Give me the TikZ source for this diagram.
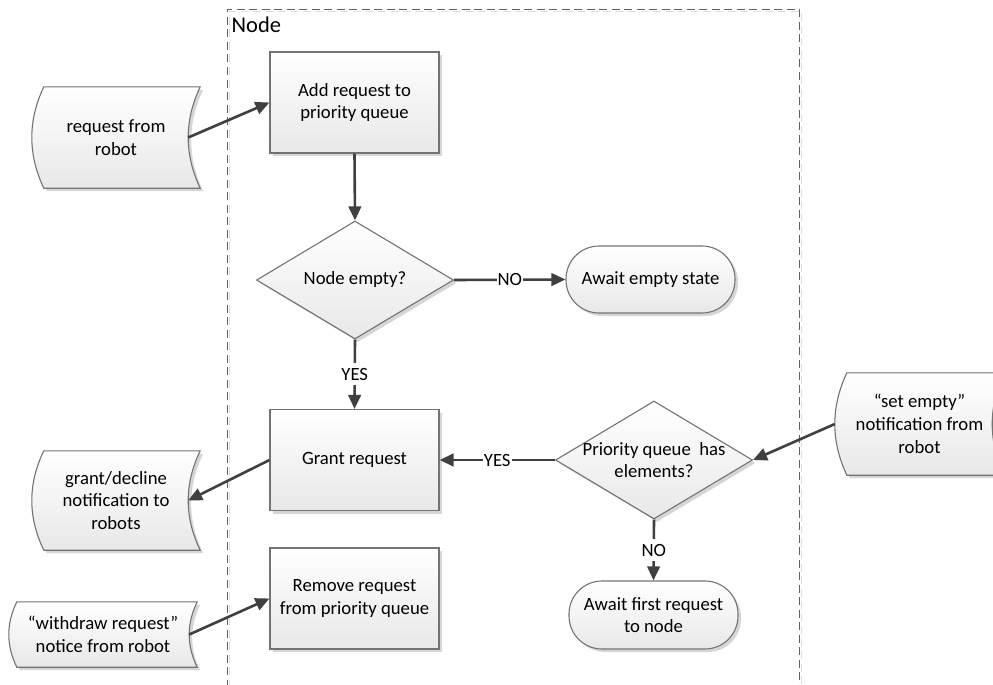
\documentclass[tikz,border=0pt]{standalone}
\usepackage{fontspec}
\setmainfont{Carlito}
\usetikzlibrary{arrows.meta,shapes.geometric,calc,shadows}
\pgfdeclarelayer{background}
\pgfsetlayers{background,main}

\tikzset{
  base/.style={font=\fontsize{18.7}{22.8}\selectfont, align=center, inner sep=0pt},
  shadefill/.style={top color=white, bottom color=black!9, draw=black!55, line width=1.1pt},
  softshadow/.style={drop shadow={shadow xshift=3pt, shadow yshift=-3pt, fill=black!16, opacity=1}},
  procbox/.style={base, rectangle, shadefill, softshadow, minimum width=169pt, minimum height=101pt},
  decision/.style={shape=diamond, inner sep=0pt, shadefill, softshadow, minimum width=197pt, minimum height=118pt},
  terminal/.style={base, rectangle, rounded corners=33pt, shadefill, softshadow, minimum width=169pt, minimum height=67pt},
  storednode/.style={base, rectangle, draw=none},
  arr/.style={draw=black!75, line width=2.6pt, -{Triangle[length=14pt,width=12.5pt]}},
  lbl/.style={base, fill=white, inner xsep=1pt, inner ysep=0pt, minimum height=22pt},
  frame/.style={draw=black!62, line width=1pt, dash pattern=on 8pt off 4.5pt},
  frameshadow/.style={draw=black!13, line width=1pt, dash pattern=on 8pt off 4.5pt},
}

% outline of a "stored data" shape around node #1, with bulge #2
\newcommand\storedpath[2]{%
  ([xshift=#2pt]#1.north west) -- (#1.north east)
  .. controls ($(#1.north east)!0.3333!(#1.south east)+(-4/3*#2,0)$)
         and ($(#1.north east)!0.6667!(#1.south east)+(-4/3*#2,0)$) .. (#1.south east)
  -- ([xshift=#2pt]#1.south west)
  .. controls ($(#1.south west)!0.3333!(#1.north west)+(-#2/3,0)$)
         and ($(#1.south west)!0.6667!(#1.north west)+(-#2/3,0)$) .. cycle}

\newcommand\storedoutline[2]{%
  \begin{pgfonlayer}{background}
    \begin{scope}[transform canvas={xshift=3pt,yshift=-3pt}]
      \fill[black!16] \storedpath{#1}{#2};
    \end{scope}
    \path[shadefill] \storedpath{#1}{#2};
  \end{pgfonlayer}
  \coordinate (#1-in) at ([xshift=-#2pt]#1.east);
}

\begin{document}
\begin{tikzpicture}[x=1pt, y=-1pt]
\useasboundingbox (0,0) rectangle (993,685);
\clip (0,0) rectangle (993,685);
\begin{pgfonlayer}{background}
  \fill[white] (0,0) rectangle (993,685);
\end{pgfonlayer}

% container frame
\draw[frameshadow] (229,700) -- (229,11.5) -- (801,11.5) -- (801,700);
\draw[frame] (227,700) -- (227,9.5) -- (799,9.5) -- (799,700);
\node[anchor=base west, inner sep=0pt, font=\fontsize{22.5}{27}\selectfont] (nodelabel) at (231.5,33) {Node};

% process steps
\node[procbox] (add) at (354.5,102.5) {Add request to\\priority queue};
\node[procbox] (grant) at (354.5,460) {Grant request};
\node[procbox] (remove) at (354.5,598.5) {Remove request\\from priority queue};

% decisions
\node[decision, label={[base]center:Node empty?}] (d1) at (355,280) {};
\node[decision, label={[base]center:{Priority queue~ has\\elements?}}] (d2) at (654,460) {};

% terminators
\node[terminal] (ae) at (650.5,279.5) {Await empty state};
\node[terminal, minimum height=68pt] (af) at (653.5,615) {Await first request\\to node};

% stored data (messages)
\node[storednode, minimum width=168pt, minimum height=101pt] (req) at (116,137.5) {request from\\robot};
\storedoutline{req}{12}
\node[storednode, minimum width=168pt, minimum height=99pt] (gd) at (116,500.5) {grant/decline\\notification to\\robots};
\storedoutline{gd}{12}
\node[storednode, minimum width=169pt, minimum height=102pt] (se) at (919.5,424) {“set empty”\\notification from\\robot};
\storedoutline{se}{12}
\node[storednode, minimum width=188pt, minimum height=65pt] (wd) at (103,634.5) {“withdraw request”\\notice from robot};
\storedoutline{wd}{8}

% connectors
\draw[arr] (req-in) -- (add.west);
\draw[arr] (add.south) -- (d1.north);
\draw[arr] (d1.east) -- node[lbl] {NO} (ae.west);
\draw[arr] (d1.south) -- node[lbl] {YES} (grant.north);
\draw[arr] (d2.west) -- node[lbl] {YES} (grant.east);
\draw[arr] (d2.south) -- node[lbl] {NO} (af.north);
\draw[arr] (se.west) -- (d2.east);
\draw[arr] (grant.west) -- (gd-in);
\draw[arr] (wd-in) -- (remove.west);
\end{tikzpicture}
\end{document}
